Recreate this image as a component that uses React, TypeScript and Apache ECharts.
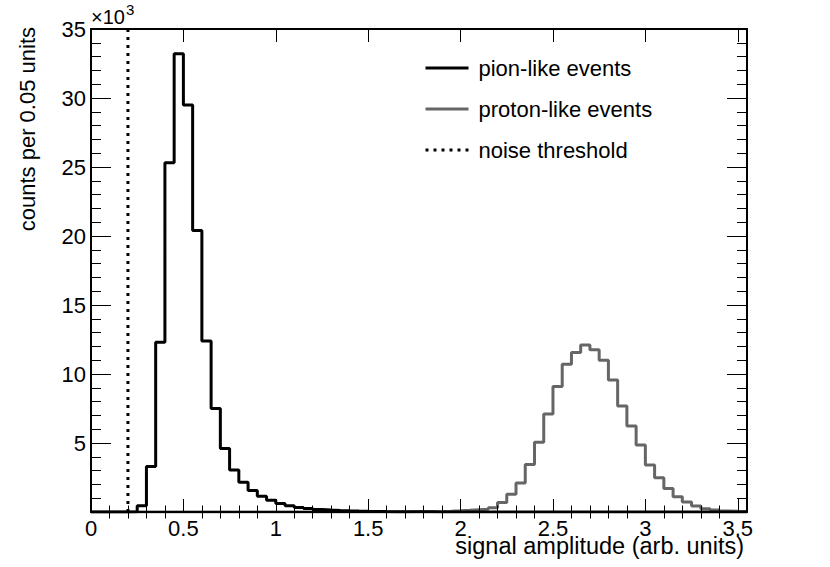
import React, { useEffect, useRef } from "react";
import * as echarts from "echarts";

// Histogram bin edges (bin width 0.05 arb. units)
const BIN_EDGES = [
  0, 0.05, 0.1, 0.15, 0.2, 0.25, 0.3, 0.35, 0.4, 0.45, 0.5, 0.55, 0.6, 0.65, 0.7, 0.75,
  0.8, 0.85, 0.9, 0.95, 1, 1.05, 1.1, 1.15, 1.2, 1.25, 1.3, 1.35, 1.4, 1.45, 1.5, 1.55,
  1.6, 1.65, 1.7, 1.75, 1.8, 1.85, 1.9, 1.95, 2, 2.05, 2.1, 2.15, 2.2, 2.25, 2.3, 2.35,
  2.4, 2.45, 2.5, 2.55, 2.6, 2.65, 2.7, 2.75, 2.8, 2.85, 2.9, 2.95, 3, 3.05, 3.1, 3.15,
  3.2, 3.25, 3.3, 3.35, 3.4, 3.45, 3.5, 3.55,
];

// counts per bin, in units of 10^3
const PION_COUNTS = [
  0, 0, 0, 0, 0.02, 0.45, 3.3, 12.3, 25.3, 33.2, 29.5, 20.4, 12.4, 7.5, 4.6, 3.05,
  2.15, 1.55, 1.15, 0.85, 0.62, 0.45, 0.33, 0.25, 0.19, 0.14, 0.11, 0.085, 0.065, 0.05, 0.04, 0.03,
  0.025, 0.02, 0.015, 0.012, 0.01, 0.008, 0.006, 0.005, 0.004, 0.003, 0.003, 0.002, 0.002, 0.001, 0.001, 0.001,
  0.001, 0.001, 0.001, 0, 0, 0, 0, 0, 0, 0, 0, 0, 0, 0, 0, 0,
  0, 0, 0, 0, 0, 0, 0,
];

const PROTON_COUNTS = [
  0, 0, 0, 0, 0, 0, 0, 0, 0, 0, 0, 0, 0, 0, 0, 0,
  0, 0, 0, 0, 0, 0, 0, 0, 0, 0, 0, 0, 0, 0, 0.002, 0.003,
  0.005, 0.008, 0.012, 0.018, 0.027, 0.04, 0.058, 0.085, 0.12, 0.16, 0.2, 0.31, 0.68, 1.28, 2.1, 3.45,
  5.05, 7.1, 9.1, 10.7, 11.55, 12.1, 11.75, 11.0, 9.57, 7.68, 6.23, 4.86, 3.4, 2.49, 1.71, 1.11,
  0.72, 0.43, 0.24, 0.14, 0.08, 0.05, 0.03,
];

const NOISE_THRESHOLD = 0.2;

const X_MIN = 0;
const X_MAX = 3.55;
const X_MAJOR_TICKS = [0, 0.5, 1, 1.5, 2, 2.5, 3, 3.5];
const X_MINOR_TICKS = [
  0.1, 0.2, 0.3, 0.4, 0.6, 0.7, 0.8, 0.9, 1.1, 1.2, 1.3, 1.4, 1.6, 1.7, 1.8, 1.9,
  2.1, 2.2, 2.3, 2.4, 2.6, 2.7, 2.8, 2.9, 3.1, 3.2, 3.3, 3.4,
];
const Y_MIN = 0;
const Y_MAX = 35;
const Y_INTERVAL = 5;

const SERIES_NAMES = ["pion-like events", "proton-like events", "noise threshold"];

const FONT = "'Liberation Sans', Arial, Helvetica, sans-serif";
const FS = 22;
const FS_XTITLE = 23.5;

function histogramPoints(counts: number[]): number[][] {
  const pts = counts.map((c, i) => [BIN_EDGES[i], c]);
  pts.push([BIN_EDGES[counts.length], counts[counts.length - 1]]);
  return pts;
}

export default function App() {
  const ref = useRef<HTMLDivElement>(null);

  useEffect(() => {
    if (!ref.current) return;
    const chart = echarts.init(ref.current, null, { renderer: "svg" });

    const frameLine = { show: true, onZero: false, lineStyle: { color: "#000", width: 2 } };
    const noLabel = { show: false };
    const tickStyle = { color: "#000", width: 1 };

    const baseX = {
      type: "value",
      min: X_MIN,
      max: X_MAX,
      splitLine: { show: false },
      minorTick: { show: false },
      z: 5,
    };

    const option: any = {
      animation: false,
      backgroundColor: "#fff",
      grid: { left: 91, right: 83, top: 29, bottom: 55, outerBoundsMode: "none" },
      legend: {
        data: SERIES_NAMES,
        orient: "vertical",
        left: 424,
        top: 56,
        padding: 0,
        itemWidth: 43,
        itemHeight: 24,
        itemGap: 17,
        selectedMode: false,
        lineStyle: { width: 3 },
        itemStyle: { opacity: 0 },
        textStyle: { fontFamily: FONT, fontSize: FS, color: "#000", lineHeight: 24, padding: [0, 0, 0, 5] },
      },
      xAxis: [
        {
          ...baseX,
          position: "bottom",
          axisLine: frameLine,
          axisTick: { show: true, inside: true, length: 13, customValues: X_MAJOR_TICKS, lineStyle: tickStyle },
          axisLabel: {
            show: true,
            customValues: X_MAJOR_TICKS,
            color: "#000",
            fontFamily: FONT,
            fontSize: FS,
            margin: 5,
          },
          name: "signal amplitude (arb. units)",
          nameLocation: "end",
          nameGap: -3,
          nameMoveOverlap: false,
          nameTextStyle: {
            fontFamily: FONT,
            fontSize: FS_XTITLE,
            color: "#000",
            align: "right",
            verticalAlign: "top",
            lineHeight: FS_XTITLE,
            padding: [22, 0, 0, 0],
          },
        },
        {
          ...baseX,
          position: "bottom",
          axisLine: { show: false },
          axisTick: { show: true, inside: true, length: 6.5, customValues: X_MINOR_TICKS, lineStyle: tickStyle },
          axisLabel: noLabel,
        },
        {
          ...baseX,
          position: "top",
          axisLine: frameLine,
          axisTick: { show: true, inside: true, length: 13, customValues: X_MAJOR_TICKS, lineStyle: tickStyle },
          axisLabel: noLabel,
        },
        {
          ...baseX,
          position: "top",
          axisLine: { show: false },
          axisTick: { show: true, inside: true, length: 6.5, customValues: X_MINOR_TICKS, lineStyle: tickStyle },
          axisLabel: noLabel,
        },
      ],
      yAxis: [
        {
          type: "value",
          position: "left",
          min: Y_MIN,
          max: Y_MAX,
          interval: Y_INTERVAL,
          z: 5,
          axisLine: frameLine,
          splitLine: { show: false },
          axisTick: { show: true, inside: true, length: 20, lineStyle: tickStyle },
          minorTick: { show: true, splitNumber: 5, length: 10, lineStyle: tickStyle },
          axisLabel: {
            show: true,
            showMinLabel: false,
            color: "#000",
            fontFamily: FONT,
            fontSize: FS,
            margin: 5,
          },
          name: "counts per 0.05 units",
          nameLocation: "end",
          nameRotate: 90,
          nameGap: 2,
          nameMoveOverlap: false,
          nameTextStyle: {
            fontFamily: FONT,
            fontSize: FS,
            color: "#000",
            align: "right",
            verticalAlign: "bottom",
            lineHeight: FS,
            padding: [0, 0, 53, 0],
          },
        },
        {
          type: "value",
          position: "right",
          min: Y_MIN,
          max: Y_MAX,
          interval: Y_INTERVAL,
          z: 5,
          axisLine: frameLine,
          splitLine: { show: false },
          axisTick: { show: true, inside: true, length: 20, lineStyle: tickStyle },
          minorTick: { show: true, splitNumber: 5, length: 10, lineStyle: tickStyle },
          axisLabel: noLabel,
        },
      ],
      series: [
        {
          name: SERIES_NAMES[1],
          type: "line",
          step: "end",
          xAxisIndex: 0,
          yAxisIndex: 0,
          data: histogramPoints(PROTON_COUNTS),
          symbol: "none",
          lineStyle: { color: "#666666", width: 3 },
          itemStyle: { color: "#666666" },
        },
        {
          name: SERIES_NAMES[0],
          type: "line",
          step: "end",
          xAxisIndex: 0,
          yAxisIndex: 0,
          data: histogramPoints(PION_COUNTS),
          symbol: "none",
          lineStyle: { color: "#000000", width: 3 },
          itemStyle: { color: "#000000" },
        },
        {
          name: SERIES_NAMES[2],
          type: "line",
          xAxisIndex: 0,
          yAxisIndex: 0,
          data: [
            [NOISE_THRESHOLD, Y_MIN],
            [NOISE_THRESHOLD, Y_MAX],
          ],
          symbol: "none",
          lineStyle: { color: "#000000", width: 3, type: [3, 5] },
          itemStyle: { color: "#000000" },
        },
      ],
      graphic: [
        {
          type: "text",
          left: 91,
          top: 7,
          style: { text: "×10", fontFamily: FONT, fontSize: 20, fill: "#000" },
        },
        {
          type: "text",
          left: 126,
          top: 2,
          style: { text: "3", fontFamily: FONT, fontSize: 15, fill: "#000" },
        },
      ],
    };

    chart.setOption(option);
    return () => chart.dispose();
  }, []);

  return (
    <div
      ref={ref}
      style={{ position: "fixed", left: 0, top: 0, width: "830px", height: "567px", background: "#fff" }}
    />
  );
}
